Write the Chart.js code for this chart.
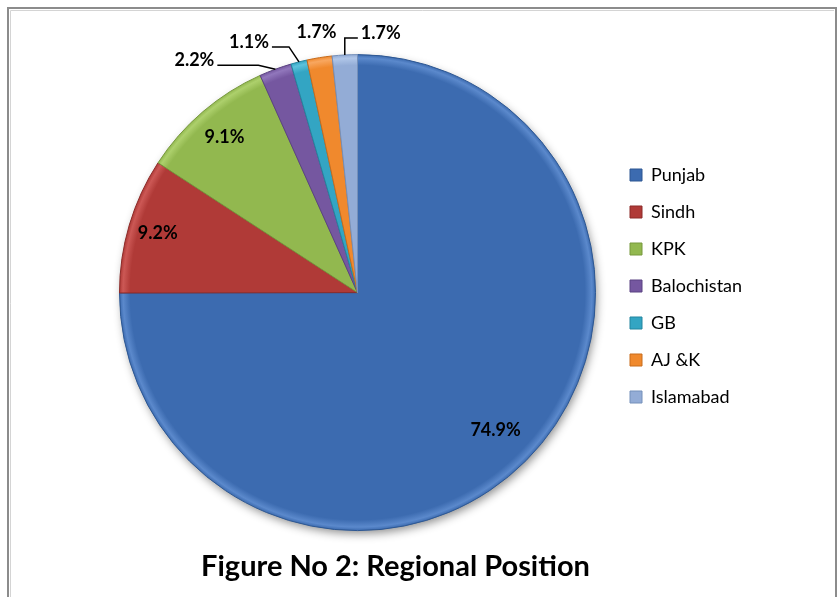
<!DOCTYPE html>
<html>
<head>
<meta charset="utf-8">
<script src="https://cdn.jsdelivr.net/npm/chart.js@4/dist/chart.umd.min.js"></script>
<style>
  html, body { margin: 0; padding: 0; background: #fff; }
  canvas { display: block; }
</style>
</head>
<body>
<canvas id="myChart" width="838" height="597"></canvas>
<script>
const regions = ['Punjab', 'Sindh', 'KPK', 'Balochistan', 'GB', 'AJ &K', 'Islamabad'];
const shares = [74.9, 9.2, 9.1, 2.2, 1.1, 1.7, 1.7];
const chartTitle = 'Figure No 2: Regional Position';

const fills = ['#3C6BB0', '#B03A37', '#92B84F', '#7557A0', '#33A5C3', '#F0892D', '#93ACD6'];
const rims = ['#5B89CC', '#CC5855', '#ADD06C', '#9177BC', '#5CC2DC', '#F8A760', '#B0C6E8'];
const edges = ['#2D5792', '#8C2B29', '#76983C', '#5B4282', '#23859F', '#C86C1C', '#7590BA'];

// where each percentage goes: r = inside at fraction of radius,
// otherwise offset from the rim point, with an optional leader elbow
const labelSpots = [
  { r: 0.82 },
  { r: 0.875 },
  { r: 0.86 },
  { dx: -81, dy: -9, elbow: -17 },
  { dx: -50, dy: -20, elbow: -10 },
  { dx: -3, dy: -25 },
  { dx: 36, dy: -22, elbow: 0 }
];

const FONT = 'Lato, "Open Sans", sans-serif';
const RADIUS = 238;
const LEGEND_SIZE = 18;
const LEGEND_PAD = 19;
const LEGEND_LEFT = 611;   // chart area ends here, legend starts
const PAD_LEFT = 104;

// legend width as Chart.js will compute it, so the right padding puts it at LEGEND_LEFT
const measure = document.createElement('canvas').getContext('2d');
measure.font = LEGEND_SIZE + 'px ' + FONT;
const longest = Math.max(...regions.map(r => measure.measureText(r).width));
const legendWidth = LEGEND_PAD + 12 + LEGEND_SIZE / 2 + longest + 10;
const PAD_RIGHT = 838 - LEGEND_LEFT - legendWidth;

// flat colour with a faint lighter band at the rim
function sliceFill(context) {
  const i = context.dataIndex;
  const area = context.chart.chartArea;
  if (!area || context.type !== 'data') return fills[i];
  const cx = (area.left + area.right) / 2;
  const cy = (area.top + area.bottom) / 2;
  const g = context.chart.ctx.createRadialGradient(cx, cy, 0, cx, cy, RADIUS);
  g.addColorStop(0, fills[i]);
  g.addColorStop(0.955, fills[i]);
  g.addColorStop(0.985, rims[i]);
  g.addColorStop(1, fills[i]);
  return g;
}

const framePlugin = {
  id: 'frame',
  beforeDraw(chart) {
    const c = chart.ctx;
    c.save();
    c.strokeStyle = '#8c8c8c';
    c.lineWidth = 2;
    c.beginPath();
    c.moveTo(8, 597);
    c.lineTo(8, 8);
    c.lineTo(836, 8);
    c.lineTo(836, 597);
    c.stroke();
    c.strokeStyle = '#d4d4d4';
    c.lineWidth = 1;
    c.beginPath();
    c.moveTo(10.5, 597);
    c.lineTo(10.5, 10.5);
    c.lineTo(834, 10.5);
    c.stroke();
    c.restore();
  }
};

// the caption sits a little right of the pie centre, as in the figure
const titleShift = {
  id: 'titleShift',
  afterLayout(chart) {
    const t = chart.titleBlock;
    const want = (chart.chartArea.left + chart.chartArea.right) / 2 + 38;
    const d = want - (t.left + t.right) / 2;
    t.left += d;
    t.right += d;
  }
};

const shadowPlugin = {
  id: 'pieShadow',
  beforeDatasetsDraw(chart) {
    const arc = chart.getDatasetMeta(0).data[0];
    if (!arc) return;
    const c = chart.ctx;
    c.save();
    c.shadowColor = 'rgba(0,0,0,0.45)';
    c.shadowBlur = 10;
    c.shadowOffsetX = 2;
    c.shadowOffsetY = 4;
    c.fillStyle = '#fff';
    c.beginPath();
    c.arc(arc.x, arc.y, arc.outerRadius - 1, 0, Math.PI * 2);
    c.fill();
    c.restore();
  }
};

const labelPlugin = {
  id: 'sliceLabels',
  afterDatasetsDraw(chart) {
    const c = chart.ctx;
    const meta = chart.getDatasetMeta(0);
    c.save();
    c.font = 'bold 18px ' + FONT;
    c.fillStyle = '#000';
    c.strokeStyle = '#000';
    c.lineWidth = 1.5;
    c.textAlign = 'center';
    c.textBaseline = 'middle';
    meta.data.forEach((arc, i) => {
      const p = arc.getProps(['x', 'y', 'startAngle', 'endAngle', 'outerRadius'], true);
      const mid = (p.startAngle + p.endAngle) / 2;
      const spot = labelSpots[i];
      const text = shares[i].toFixed(1) + '%';
      let lx, ly;
      if (spot.r !== undefined) {
        lx = p.x + Math.cos(mid) * p.outerRadius * spot.r;
        ly = p.y + Math.sin(mid) * p.outerRadius * spot.r;
      } else {
        const ex = p.x + Math.cos(mid) * p.outerRadius;
        const ey = p.y + Math.sin(mid) * p.outerRadius;
        lx = ex + spot.dx;
        ly = ey + spot.dy;
        if (spot.elbow !== undefined) {
          const half = c.measureText(text).width / 2;
          const lineY = ly + 5;
          const kx = ex + spot.elbow;
          const endX = lx < ex ? lx + half + 3 : lx - half - 3;
          c.beginPath();
          c.moveTo(ex, ey);
          c.lineTo(kx, lineY);
          c.lineTo(endX, lineY);
          c.stroke();
        }
      }
      c.fillText(text, lx, ly);
    });
    c.restore();
  }
};

const ctx = document.getElementById('myChart');
const myChart = new Chart(ctx, {
  type: 'pie',
  data: {
    labels: regions,
    datasets: [{
      data: shares,
      backgroundColor: sliceFill,
      borderColor: edges,
      borderWidth: 1,
      radius: RADIUS
    }]
  },
  options: {
    responsive: false,
    animation: false,
    layout: {
      padding: { left: PAD_LEFT, right: PAD_RIGHT, top: 36, bottom: 13 }
    },
    plugins: {
      tooltip: { enabled: false },
      legend: {
        position: 'right',
        align: 'start',
        // empty title used only as a spacer to drop the entries to mid height
        title: { display: true, text: '', font: { size: 10 }, padding: { top: 99, bottom: 0 } },
        labels: {
          boxWidth: 12,
          boxHeight: 12,
          padding: LEGEND_PAD,
          color: '#000',
          font: { family: FONT, size: LEGEND_SIZE },
          generateLabels(chart) {
            return Chart.overrides.pie.plugins.legend.labels.generateLabels(chart)
              .map((item, i) => Object.assign(item, { fillStyle: fills[i] }));
          }
        }
      },
      title: {
        display: true,
        position: 'bottom',
        text: chartTitle,
        color: '#000',
        padding: { top: 0, bottom: 0 },
        font: { family: FONT, size: 29, weight: 'bold' }
      }
    }
  },
  plugins: [framePlugin, titleShift, shadowPlugin, labelPlugin]
});
</script>
</body>
</html>
